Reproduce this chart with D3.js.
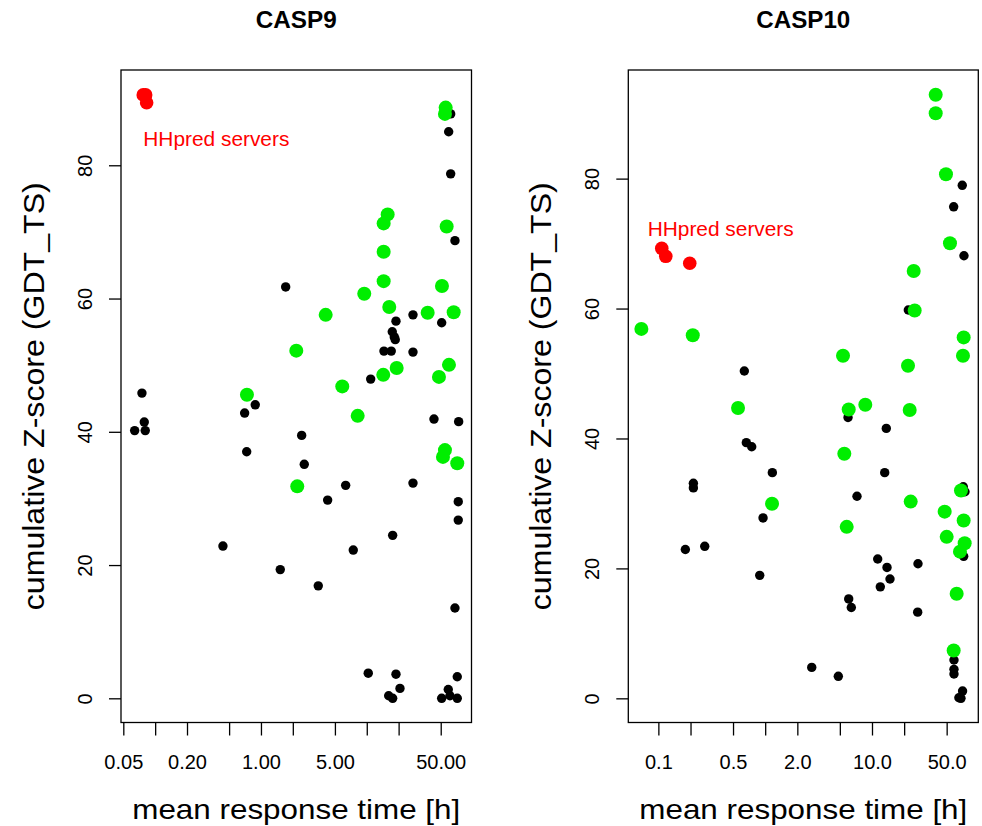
<!DOCTYPE html>
<html>
<head>
<meta charset="utf-8">
<script src="https://cdn.jsdelivr.net/npm/d3@7/dist/d3.min.js"></script>
<style>
  html, body { margin: 0; padding: 0; background: #fff; }
  svg { display: block; font-family: "Liberation Sans", Arial, Helvetica, sans-serif; }
</style>
</head>
<body>
<svg id="chart" width="982" height="826"></svg>
<script>
// ---------- DATA ----------
// CASP9
const casp9OtherTime = [0.0640, 0.0750, 0.0789, 0.0806, 0.437, 0.701, 0.733, 0.883, 1.712, 1.522,
  2.425, 2.566, 3.480, 4.269, 6.318, 7.455, 10.33, 10.89, 14.54, 17.04,
  17.42, 18.19, 18.59, 18.88, 27.34, 27.34, 27.34, 17.57, 16.11, 17.57,
  18.88, 20.60, 43.17, 51.05, 51.05, 58.93, 61.15, 71.67, 71.67, 68.17,
  73.23, 73.23, 73.87, 68.17, 62.09, 59.45, 62.09];
const casp9OtherZ = [40.18, 45.81, 41.46, 40.18, 22.85, 42.81, 37.01, 44.05, 61.74, 19.32,
  39.46, 35.12, 16.88, 29.75, 31.96, 22.25, 3.77, 47.91, 52.11, 52.11,
  55.02, 54.24, 53.83, 56.61, 57.55, 51.96, 32.30, 24.46, 0.38, 0.0,
  3.62, 1.49, 41.91, 56.37, 0.0, 1.32, 0.38, 0.0, 3.23, 13.56,
  26.75, 29.51, 41.52, 68.69, 78.71, 85.03, 87.71];
const casp9TopTime = [0.737, 2.157, 2.203, 4.089, 5.867, 8.204, 9.471, 14.32, 14.44, 14.44,
  14.44, 15.76, 16.32, 19.17, 37.64, 48.13, 51.38, 52.51, 54.84, 55.68,
  54.84, 56.91, 59.84, 66.29, 71.67];
const casp9TopZ = [45.55, 52.18, 31.81, 57.55, 46.81, 42.39, 60.71, 48.55, 62.61, 67.02,
  71.28, 72.63, 58.74, 49.57, 57.87, 48.24, 61.89, 36.23, 37.25, 88.66,
  87.71, 70.82, 50.05, 57.95, 35.27];
const casp9HHpredTime = [0.0772, 0.0813, 0.0831];
const casp9HHpredZ = [90.56, 90.56, 89.38];

// CASP10
const casp10OtherTime = [0.1789, 0.2127, 0.2127, 0.2717, 0.638, 0.666, 0.748, 0.889, 0.955, 1.167,
  2.728, 4.838, 5.964, 6.052, 6.402, 7.238, 11.31, 11.96, 13.82, 14.74,
  13.61, 13.15, 21.87, 26.95, 26.77, 58.16, 69.99, 72.61, 71.53, 74.21,
  72.15, 58.54, 58.54, 58.54, 70.45, 65.06, 68.08];
const casp10OtherZ = [22.91, 33.11, 32.39, 23.40, 50.39, 39.36, 38.72, 18.93, 27.77, 34.74,
  4.76, 3.39, 43.24, 15.30, 13.99, 31.10, 21.44, 17.16, 20.15, 18.37,
  41.55, 34.74, 59.78, 20.72, 13.27, 75.66, 78.97, 68.12, 32.57, 31.80,
  21.86, 5.90, 4.46, 3.74, 1.12, 0.09, 0.0];
const casp10TopTime = [0.0693, 0.2099, 0.557, 1.159, 5.354, 6.052, 5.506, 5.798, 8.656, 21.73,
  22.54, 23.03, 24.57, 25.09, 39.47, 39.47, 49.27, 53.70, 47.90, 50.02,
  72.15, 71.08, 68.08, 72.15, 73.73, 66.62, 62.03, 58.16];
const casp10TopZ = [56.87, 55.88, 44.70, 29.96, 52.73, 44.46, 37.65, 26.40, 45.20, 51.19,
  44.38, 30.28, 65.78, 59.70, 92.92, 90.07, 80.68, 70.06, 28.74, 24.86,
  55.56, 52.73, 31.99, 27.37, 23.88, 22.58, 16.10, 7.36];
const casp10HHpredTime = [0.1076, 0.1173, 0.1967];
const casp10HHpredZ = [69.26, 68.04, 66.98];

// Axis ticks
const casp9XTicks = [0.05, 0.1, 0.2, 0.5, 1, 2, 5, 10, 20, 50];
const casp9XTickLabels = ["0.05", "", "0.20", "", "1.00", "", "5.00", "", "", "50.00"];
const casp10XTicks = [0.1, 0.2, 0.5, 1, 2, 5, 10, 20, 50];
const casp10XTickLabels = ["0.1", "", "0.5", "", "2.0", "", "10.0", "", "50.0"];
const yTicks = [0, 20, 40, 60, 80];

const panelTitles = ["CASP9", "CASP10"];
const xTitle = "mean response time [h]";
const yTitle = "cumulative Z-score (GDT_TS)";
const annotationText = "HHpred servers";
// annotation anchor in data coordinates [time, z]
const casp9Annotation = [0.0773, 82.9];
const casp10Annotation = [0.0795, 71.17];

// ---------- LAYOUT ----------
const svg = d3.select("#chart");
const FONT = "'Liberation Sans', Arial, Helvetica, sans-serif";
const GREEN = "#00ee00";
const RED = "#ff0000";

const panels = [
  {
    title: panelTitles[0], titleLen: 81,
    left: 121, right: 471.5, top: 70, bottom: 722.5,
    xDomain: [0.04755, 97.7], yDomain: [-3.63, 94.3],
    xTicks: casp9XTicks, xLabels: casp9XTickLabels,
    other: [casp9OtherTime, casp9OtherZ], top3: [casp9TopTime, casp9TopZ],
    hh: [casp9HHpredTime, casp9HHpredZ], ann: casp9Annotation
  },
  {
    title: panelTitles[1], titleLen: 94,
    left: 628.3, right: 978.3, top: 70, bottom: 722.5,
    xDomain: [0.0523, 98.9], yDomain: [-3.72, 96.72],
    xTicks: casp10XTicks, xLabels: casp10XTickLabels,
    other: [casp10OtherTime, casp10OtherZ], top3: [casp10TopTime, casp10TopZ],
    hh: [casp10HHpredTime, casp10HHpredZ], ann: casp10Annotation
  }
];

panels.forEach(p => {
  const g = svg.append("g");
  const x = d3.scaleLog().domain(p.xDomain).range([p.left, p.right]);
  const y = d3.scaleLinear().domain(p.yDomain).range([p.bottom, p.top]);
  const cx = (p.left + p.right) / 2;
  const cy = (p.top + p.bottom) / 2;

  // points: other servers (black), top servers (green), HHpred (red)
  const pts = (arr) => arr[0].map((t, i) => [t, arr[1][i]]);
  g.append("g").selectAll("circle").data(pts(p.other)).join("circle")
    .attr("cx", d => x(d[0])).attr("cy", d => y(d[1])).attr("r", 4.7).attr("fill", "#000");
  g.append("g").selectAll("circle").data(pts(p.top3)).join("circle")
    .attr("cx", d => x(d[0])).attr("cy", d => y(d[1])).attr("r", 7).attr("fill", GREEN);
  g.append("g").selectAll("circle").data(pts(p.hh)).join("circle")
    .attr("cx", d => x(d[0])).attr("cy", d => y(d[1])).attr("r", 6.8).attr("fill", RED);

  // annotation
  g.append("text")
    .attr("x", x(p.ann[0])).attr("y", y(p.ann[1]))
    .attr("fill", RED).attr("font-size", 21)
    .attr("textLength", 146).attr("lengthAdjust", "spacingAndGlyphs")
    .text(annotationText);

  // box
  g.append("rect")
    .attr("x", p.left).attr("y", p.top)
    .attr("width", p.right - p.left).attr("height", p.bottom - p.top)
    .attr("fill", "none").attr("stroke", "#000").attr("stroke-width", 1.3);

  // x axis
  const xAxis = d3.axisBottom(x)
    .tickValues(p.xTicks)
    .tickFormat((d, i) => p.xLabels[i])
    .tickSize(13).tickPadding(0);
  const xg = g.append("g").attr("transform", `translate(0,${p.bottom})`).call(xAxis);
  xg.select(".domain").remove();
  xg.selectAll(".tick line").attr("stroke", "#000").attr("stroke-width", 1.3);
  xg.selectAll(".tick text")
    .attr("y", 46.5).attr("dy", 0)
    .attr("font-size", 20).attr("font-family", FONT).attr("fill", "#000");

  // y axis
  const yAxis = d3.axisLeft(y).tickValues(yTicks).tickFormat(d3.format("d")).tickSize(12);
  const yg = g.append("g").attr("transform", `translate(${p.left},0)`).call(yAxis);
  yg.select(".domain").remove();
  yg.selectAll(".tick line").attr("stroke", "#000").attr("stroke-width", 1.3);
  yg.selectAll(".tick text")
    .attr("x", 0).attr("dy", 0)
    .attr("transform", "translate(-29.5,0) rotate(-90)")
    .attr("text-anchor", "middle")
    .attr("font-size", 20).attr("font-family", FONT).attr("fill", "#000");

  // titles
  g.append("text")
    .attr("x", cx).attr("y", 27.7)
    .attr("text-anchor", "middle").attr("font-weight", "bold").attr("font-size", 23)
    .attr("textLength", p.titleLen).attr("lengthAdjust", "spacingAndGlyphs")
    .text(p.title);

  g.append("text")
    .attr("x", cx).attr("y", 819)
    .attr("text-anchor", "middle").attr("font-size", 28)
    .attr("textLength", 328).attr("lengthAdjust", "spacingAndGlyphs")
    .text(xTitle);

  g.append("text")
    .attr("transform", `translate(${p.left - 77.5},${cy}) rotate(-90)`)
    .attr("text-anchor", "middle").attr("font-size", 29)
    .attr("textLength", 428).attr("lengthAdjust", "spacingAndGlyphs")
    .text(yTitle);
});
</script>
</body>
</html>
